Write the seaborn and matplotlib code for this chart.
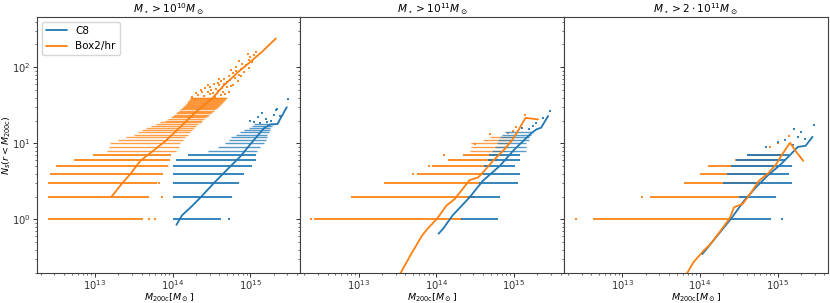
import numpy as np
import matplotlib
matplotlib.use('Agg')
import matplotlib.pyplot as plt
import seaborn as sns

c8_color = '#1f77b4'
box_color = '#ff7f0e'

titles = [r'$M_\star > 10^{10}M_\odot$',
          r'$M_\star > 10^{11}M_\odot$',
          r'$M_\star > 2\cdot 10^{11}M_\odot$']

# ---- mean N_s vs log10(M200c), one pair of lists per panel ----
c8_line_m1 = [14.05, 14.12, 14.25, 14.37, 14.53, 14.70, 14.87, 15.03, 15.18, 15.26, 15.35, 15.47]
c8_line_n1 = [0.85, 1.13, 1.5, 2.0, 3.0, 4.5, 6.7, 10.6, 16, 17.8, 18, 30]
box_line_m1 = [13.215, 13.34, 13.45, 13.585, 13.75, 13.91, 14.10, 14.30, 14.50, 14.66, 14.85, 15.00, 15.15, 15.33]
box_line_n1 = [2.0, 2.9, 3.9, 5.9, 8.0, 10.8, 16.5, 26, 38, 58, 88, 118, 160, 240]

c8_line_m2 = [14.03, 14.09, 14.21, 14.43, 14.60, 14.82, 14.99, 15.12, 15.23, 15.29, 15.35, 15.44]
c8_line_n2 = [0.65, 0.76, 1.13, 1.96, 3.23, 5.08, 8.0, 10.8, 13.8, 15.3, 16.1, 22.9]
box_line_m2 = [13.48, 13.55, 13.68, 13.82, 13.89, 14.01, 14.13, 14.24, 14.43, 14.54, 14.62, 14.73, 14.86, 14.97, 15.05, 15.15, 15.31]
box_line_n2 = [0.16, 0.205, 0.356, 0.62, 0.76, 1.02, 1.52, 1.87, 3.3, 3.57, 4.37, 5.9, 8.0, 10.8, 14.5, 21.7, 20.7]

c8_line_m3 = [14.03, 14.14, 14.27, 14.40, 14.57, 14.72, 14.87, 15.04, 15.17, 15.26, 15.36, 15.45]
c8_line_n3 = [0.35, 0.48, 0.70, 1.02, 1.77, 2.64, 3.76, 5.3, 7.2, 9.0, 9.3, 12.2]
box_line_m3 = [13.80, 13.87, 13.92, 14.05, 14.14, 14.27, 14.38, 14.44, 14.55, 14.66, 14.76, 14.87, 14.98, 15.06, 15.16, 15.23, 15.33]
box_line_n3 = [0.17, 0.227, 0.277, 0.39, 0.48, 0.72, 1.02, 1.45, 1.6, 2.27, 3.23, 3.96, 5.3, 7.2, 10.2, 8.0, 5.9]

# ---- satellite counts per halo: integer rows, log10 mass range covered ----
box_rows_n1 = list(range(1, 41))
box_rows_lo1 = [12.40, 12.40, 12.40, 12.42, 12.50, 12.73, 12.98, 13.15, 13.18, 13.20,
                13.30, 13.40, 13.50, 13.55, 13.60, 13.66, 13.72, 13.78, 13.84, 13.90,
                13.94, 13.98, 14.00, 14.02, 14.04, 14.06, 14.08, 14.10, 14.12, 14.14,
                14.15, 14.16, 14.17, 14.18, 14.19, 14.20, 14.21, 14.22, 14.23, 14.24]
box_rows_hi1 = [13.62, 13.70, 13.80, 13.88, 13.94, 13.97, 13.98, 14.05, 14.08, 14.10,
                14.13, 14.16, 14.20, 14.22, 14.25, 14.28, 14.30, 14.33, 14.36, 14.38,
                14.40, 14.43, 14.45, 14.47, 14.49, 14.51, 14.53, 14.55, 14.57, 14.58,
                14.60, 14.61, 14.62, 14.64, 14.65, 14.66, 14.67, 14.68, 14.69, 14.70]
box_pts_m1 = [14.25, 14.33, 14.41, 14.48, 14.55, 14.62, 14.68, 14.30, 14.38, 14.45, 14.52, 14.58,
              14.65, 14.72, 14.36, 14.50, 14.42, 14.56, 14.63, 14.70, 14.48, 14.60, 14.75, 14.53,
              14.66, 14.78, 14.58, 14.70, 14.45, 14.62, 14.74, 14.84, 14.66, 14.80, 14.88, 14.72,
              14.85, 14.78, 14.92, 14.60, 14.82, 14.75, 14.88, 14.98, 14.82, 14.94, 14.90, 15.02,
              14.86, 14.98, 15.00, 15.05, 14.97, 15.08, 13.70, 13.77, 13.86, 13.82]
box_pts_n1 = [41, 43, 42, 44, 41, 43, 45, 46, 47, 48, 46, 49,
              47, 48, 50, 51, 53, 52, 54, 55, 56, 58, 57, 60,
              61, 59, 63, 64, 59, 66, 68, 67, 71, 73, 76, 78,
              80, 84, 86, 70, 89, 92, 95, 98, 102, 106, 112, 116,
              120, 126, 135, 145, 152, 160, 1, 1, 2, 3]

c8_rows_n1 = list(range(1, 19))
c8_rows_lo1 = [14.00, 14.00, 14.00, 14.00, 14.00, 14.05, 14.20, 14.45, 14.58, 14.68,
               14.72, 14.75, 14.82, 14.87, 14.92, 14.98, 15.02, 15.05]
c8_rows_hi1 = [14.62, 14.76, 14.85, 14.92, 15.02, 15.07, 15.07, 15.09, 15.13, 15.18,
               15.20, 15.22, 15.22, 15.24, 15.25, 15.26, 15.28, 15.30]
c8_pts_m1 = [15.00, 15.10, 15.20, 15.15, 15.30, 15.22, 15.35, 15.49, 15.05, 15.27, 15.12, 15.38, 15.33, 14.72]
c8_pts_n1 = [20, 22, 21, 25, 24, 19, 28, 38, 19, 20, 18.5, 23, 27.4, 1]

box_rows_n2 = list(range(1, 13))
box_rows_lo2 = [12.42, 12.90, 13.33, 13.75, 13.95, 14.15, 14.35, 14.43, 14.45, 14.45, 14.60, 14.69]
box_rows_hi2 = [14.35, 14.50, 14.57, 14.62, 14.69, 14.80, 14.85, 14.88, 14.92, 14.95, 14.97, 14.99]
box_pts_m2 = [15.14, 15.03, 14.99, 14.92, 14.69, 14.50, 12.39, 13.70, 13.91, 14.10]
box_pts_n2 = [23.6, 16.4, 14.5, 13.8, 13.2, 9.8, 1, 4, 5, 7]

c8_rows_n2 = list(range(1, 15))
c8_rows_lo2 = [14.32, 14.41, 14.55, 14.60, 14.62, 14.66, 14.68, 14.72, 14.75, 14.78, 14.80, 14.82, 14.85, 14.88]
c8_rows_hi2 = [14.79, 14.82, 15.05, 15.08, 15.01, 15.08, 15.08, 15.16, 15.16, 15.16, 15.20, 15.20, 15.22, 15.25]
c8_pts_m2 = [15.46, 15.29, 15.25, 15.20, 15.38, 15.10]
c8_pts_n2 = [27, 18.7, 16.9, 15.3, 21.7, 16]

box_rows_n3 = list(range(1, 8))
box_rows_lo3 = [12.62, 13.36, 13.79, 14.00, 14.10, 14.45, 14.60]
box_rows_hi3 = [14.38, 14.61, 14.78, 14.88, 14.95, 15.00, 15.05]
box_pts_m3 = [12.41, 13.26, 15.15, 15.00, 14.90, 15.30]
box_pts_n3 = [1, 2, 12.5, 10, 9, 6.5]

c8_rows_n3 = list(range(1, 8))
c8_rows_lo3 = [14.38, 14.50, 14.30, 14.35, 14.40, 14.46, 14.60]
c8_rows_hi3 = [14.91, 14.98, 15.19, 15.15, 15.19, 15.09, 15.15]
c8_pts_m3 = [15.47, 15.21, 15.30, 15.26, 15.10, 15.00, 14.85, 15.20, 15.35, 15.06]
c8_pts_n3 = [17.5, 15.3, 14.3, 12, 11, 10.5, 9, 9.5, 11.5, 1]

panels = [
    (box_rows_n1, box_rows_lo1, box_rows_hi1, box_pts_m1, box_pts_n1,
     c8_rows_n1, c8_rows_lo1, c8_rows_hi1, c8_pts_m1, c8_pts_n1,
     c8_line_m1, c8_line_n1, box_line_m1, box_line_n1),
    (box_rows_n2, box_rows_lo2, box_rows_hi2, box_pts_m2, box_pts_n2,
     c8_rows_n2, c8_rows_lo2, c8_rows_hi2, c8_pts_m2, c8_pts_n2,
     c8_line_m2, c8_line_n2, box_line_m2, box_line_n2),
    (box_rows_n3, box_rows_lo3, box_rows_hi3, box_pts_m3, box_pts_n3,
     c8_rows_n3, c8_rows_lo3, c8_rows_hi3, c8_pts_m3, c8_pts_n3,
     c8_line_m3, c8_line_n3, box_line_m3, box_line_n3),
]

sns.set_theme(style='ticks', rc={
    'axes.edgecolor': '0.25',
    'axes.linewidth': 0.8,
    'xtick.major.size': 2.6,
    'ytick.major.size': 2.6,
    'xtick.minor.size': 1.6,
    'ytick.minor.size': 1.6,
    'xtick.major.width': 0.7,
    'ytick.major.width': 0.7,
    'xtick.minor.width': 0.5,
    'ytick.minor.width': 0.5,
    'xtick.major.pad': 1.0,
    'ytick.major.pad': 1.5,
    'xtick.labelsize': 7.2,
    'ytick.labelsize': 7.2,
    'axes.labelsize': 6.8,
    'axes.titlesize': 7.6,
    'text.color': 'black',
    'axes.labelcolor': 'black',
    'xtick.color': '0.2',
    'ytick.color': '0.2',
})
plt.rcParams['font.family'] = ['DejaVu Sans']
plt.rcParams['mathtext.fontset'] = 'dejavusans'

fig, axes = plt.subplots(1, 3, figsize=(8.3, 3.03), dpi=100, sharex=True, sharey=True)
fig.subplots_adjust(left=0.0442, right=0.9972, top=0.945, bottom=0.100, wspace=0)


def draw_rows(ax, n, lo, hi, color):
    n = np.array(n)
    lo = 10 ** np.array(lo)
    hi = 10 ** np.array(hi)
    low = n <= 7
    ax.hlines(n[low], lo[low], hi[low], colors=color, lw=1.4, alpha=0.9)
    ax.hlines(n[~low], lo[~low], hi[~low], colors=color, lw=1.0, alpha=0.75)


for i, ax in enumerate(axes):
    (b_n, b_lo, b_hi, b_pm, b_pn, c_n, c_lo, c_hi, c_pm, c_pn,
     c_lm, c_ln, b_lm, b_ln) = panels[i]
    ax.set_xscale('log')
    ax.set_yscale('log')

    # individual haloes (integer satellite counts)
    draw_rows(ax, b_n, b_lo, b_hi, box_color)
    sns.scatterplot(x=10 ** np.array(b_pm), y=b_pn, ax=ax, color=box_color, s=3.5,
                    marker='s', linewidth=0, alpha=0.9, legend=False)
    draw_rows(ax, c_n, c_lo, c_hi, c8_color)
    sns.scatterplot(x=10 ** np.array(c_pm), y=c_pn, ax=ax, color=c8_color, s=3.5,
                    marker='s', linewidth=0, alpha=0.9, legend=False)

    # mean relation
    sns.lineplot(x=10 ** np.array(c_lm), y=c_ln, ax=ax, color=c8_color, lw=1.3,
                 estimator=None, sort=False, label='C8' if i == 0 else None)
    sns.lineplot(x=10 ** np.array(b_lm), y=b_ln, ax=ax, color=box_color, lw=1.3,
                 estimator=None, sort=False, label='Box2/hr' if i == 0 else None)

    ax.set_title(titles[i], pad=0.8)
    ax.set_xlabel(r'$M_{\rm 200c}[M_\odot]$', labelpad=0)

axes[0].set_ylabel(r'$N_s(r<M_{\rm 200c})$', labelpad=-0.5)
axes[0].set_xlim(10 ** 12.25, 10 ** 15.645)
axes[0].set_ylim(10 ** -0.70, 10 ** 2.667)
axes[0].legend(loc='upper left', fontsize=7.5, frameon=True, fancybox=True,
               edgecolor='0.8', handlelength=2.0)

plt.savefig('out.png', dpi=100)
